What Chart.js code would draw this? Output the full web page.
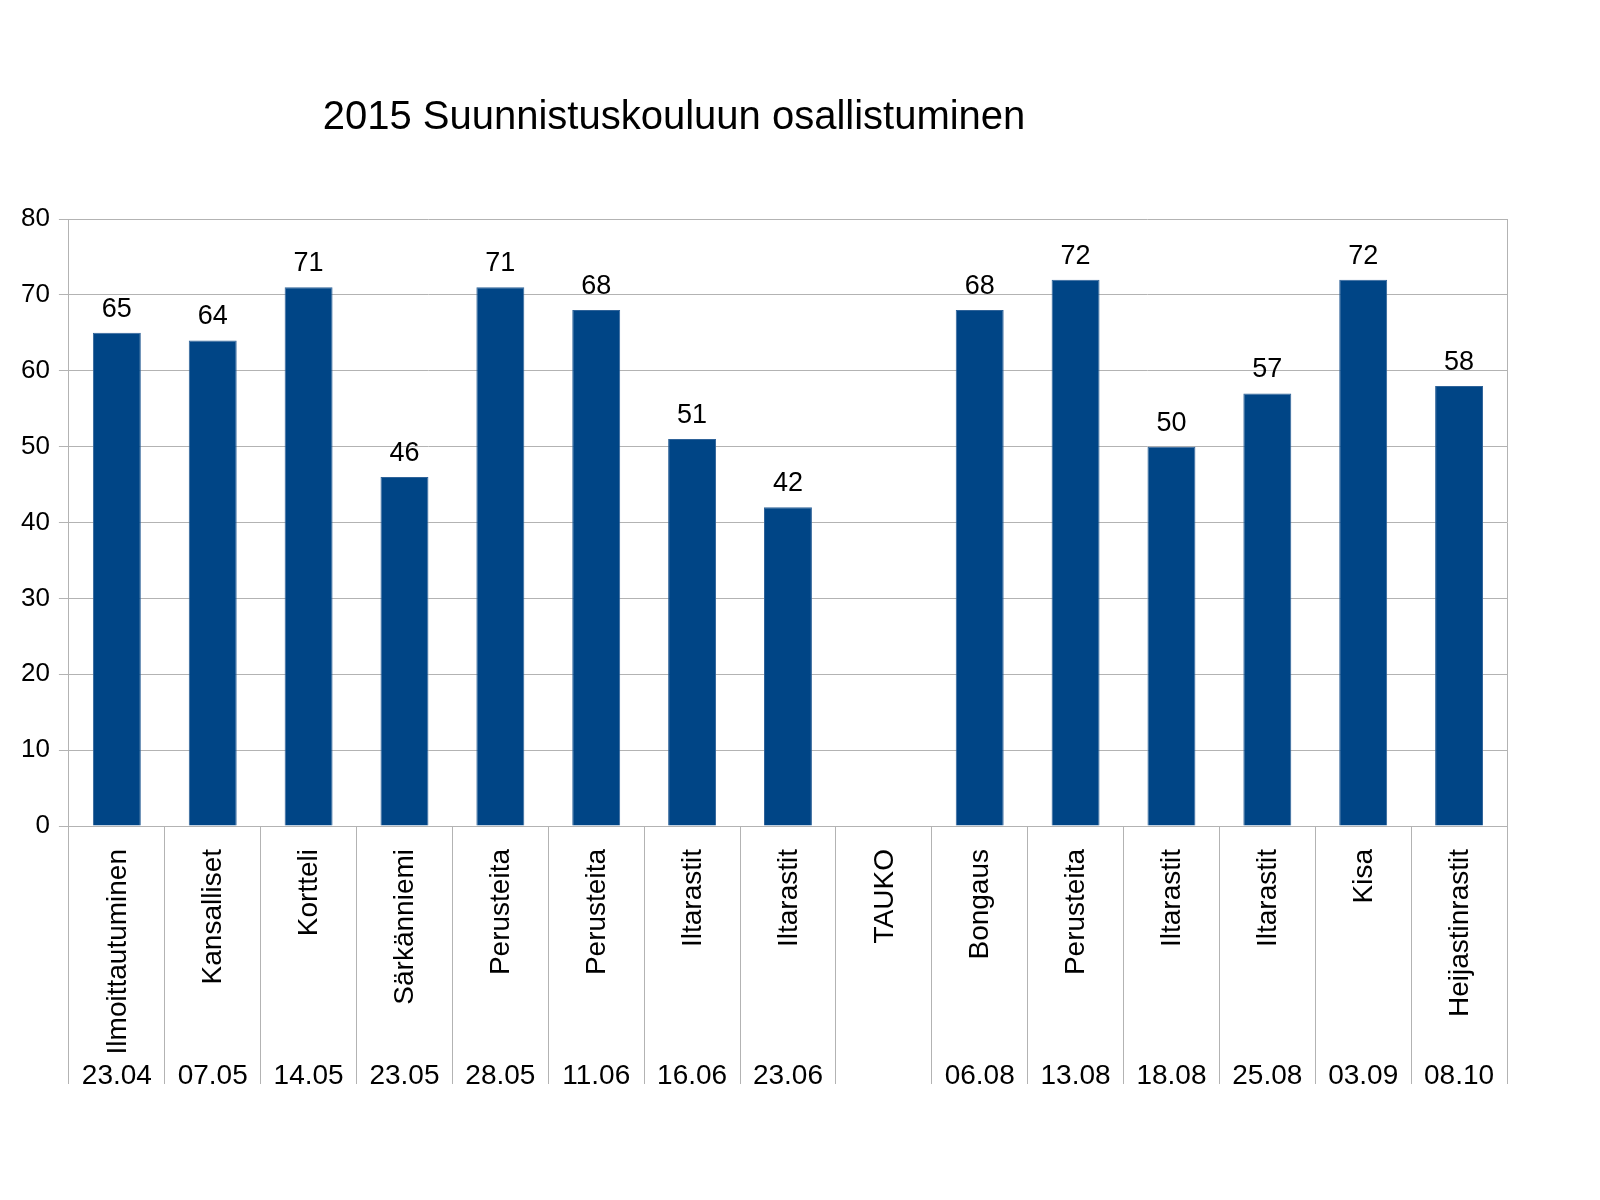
<!DOCTYPE html>
<html>
<head>
<meta charset="utf-8">
<script src="https://cdn.jsdelivr.net/npm/chart.js@4"></script>
<style>
  html, body { margin: 0; padding: 0; background: #fff; }
  #wrap { width: 1600px; height: 1200px; }
</style>
</head>
<body>
<div id="wrap"><canvas id="osallistuminen"></canvas></div>
<script>
// tapahtumat, päivämäärät ja osallistujamäärät
const nimet = ["Ilmoittautuminen", "Kansalliset", "Kortteli", "Särkänniemi", "Perusteita",
  "Perusteita", "Iltarastit", "Iltarastit", "TAUKO", "Bongaus", "Perusteita",
  "Iltarastit", "Iltarastit", "Kisa", "Heijastinrastit"];
const paivat = ["23.04", "07.05", "14.05", "23.05", "28.05", "11.06", "16.06", "23.06",
  "", "06.08", "13.08", "18.08", "25.08", "03.09", "08.10"];
const osallistujat = [65, 64, 71, 46, 71, 68, 51, 42, null, 68, 72, 50, 57, 72, 58];
const yTicks = [0, 10, 20, 30, 40, 50, 60, 70, 80];

const otsikko = "2015 Suunnistuskouluun osallistuminen";
const fontti = "'Liberation Sans', Arial, sans-serif";
const harmaa = "#b3b3b3";

// piirretään otsikko, arvot ja kaksirivinen x-akselin teksti
const tekstit = {
  id: "tekstit",
  afterDraw(chart) {
    const ctx = chart.ctx;
    const x = chart.scales.x;
    const y = chart.scales.y;
    const area = chart.chartArea;
    ctx.save();
    ctx.fillStyle = "#000";

    // otsikko
    ctx.font = "40px " + fontti;
    ctx.textAlign = "center";
    ctx.textBaseline = "alphabetic";
    ctx.fillText(otsikko, 674, 129);

    // oikea reuna
    ctx.strokeStyle = harmaa;
    ctx.lineWidth = 1;
    ctx.beginPath();
    ctx.moveTo(area.right + 0.5, area.top);
    ctx.lineTo(area.right + 0.5, area.bottom);
    ctx.stroke();

    // arvot pylväiden päällä
    ctx.font = "27px " + fontti;
    ctx.textBaseline = "bottom";
    chart.getDatasetMeta(0).data.forEach((bar, i) => {
      if (osallistujat[i] == null) return;
      ctx.fillText(String(osallistujat[i]), bar.x, bar.y - 10);
    });

    // nimet pystyyn ja päivämäärät alle
    nimet.forEach((nimi, i) => {
      const cx = x.getPixelForValue(i);
      ctx.save();
      ctx.translate(cx, y.bottom + 23);
      ctx.rotate(-Math.PI / 2);
      ctx.font = "28px " + fontti;
      ctx.textAlign = "right";
      ctx.textBaseline = "middle";
      ctx.fillText(nimi, 0, 1);
      ctx.restore();

      ctx.font = "28px " + fontti;
      ctx.textAlign = "center";
      ctx.textBaseline = "alphabetic";
      ctx.fillText(paivat[i], cx, y.bottom + 258);
    });
    ctx.restore();
  }
};

new Chart(document.getElementById("osallistuminen"), {
  type: "bar",
  data: {
    labels: nimet,
    datasets: [{
      data: osallistujat,
      backgroundColor: "#004586",
      borderColor: "#2f6399",
      borderWidth: 1,
      barPercentage: 0.5,
      categoryPercentage: 1
    }]
  },
  options: {
    responsive: true,
    maintainAspectRatio: false,
    animation: false,
    layout: { padding: { left: 12, right: 93, top: 219, bottom: 116 } },
    plugins: {
      legend: { display: false },
      title: { display: false },
      tooltip: { enabled: false }
    },
    scales: {
      x: {
        grid: {
          offset: true,
          drawOnChartArea: false,
          color: harmaa,
          tickLength: 258
        },
        border: { color: harmaa },
        ticks: { display: false }
      },
      y: {
        min: 0,
        max: 80,
        afterBuildTicks(axis) { axis.ticks = yTicks.map(v => ({ value: v })); },
        grid: { color: harmaa, tickLength: 10 },
        border: { color: harmaa },
        ticks: {
          color: "#000",
          padding: 9,
          font: { family: fontti, size: 26 }
        }
      }
    }
  },
  plugins: [tekstit]
});
</script>
</body>
</html>
